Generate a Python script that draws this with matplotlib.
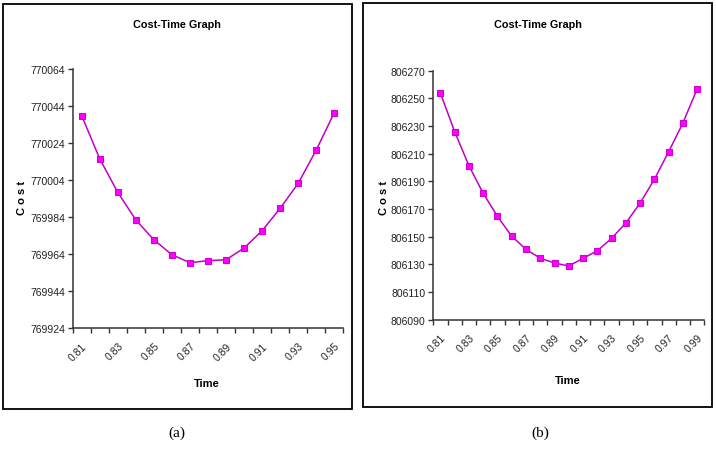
import matplotlib
matplotlib.use("Agg")
import matplotlib.pyplot as plt
from matplotlib.patches import Rectangle
from matplotlib.ticker import FixedLocator

plt.rcParams['font.family'] = ['Liberation Sans', 'DejaVu Sans']

# ---- data ----
time_a = ["0.81", "0.82", "0.83", "0.84", "0.85", "0.86", "0.87", "0.88",
          "0.89", "0.90", "0.91", "0.92", "0.93", "0.94", "0.95"]
cost_a = [770038.8, 770015.4, 769997.3, 769982.4, 769971.7, 769963.6, 769959.3,
          769960.4, 769960.9, 769967.2, 769976.6, 769988.7, 770002.2, 770020.2,
          770040.4]
yticks_a = [769924, 769944, 769964, 769984, 770004, 770024, 770044, 770064]

time_b = ["0.81", "0.82", "0.83", "0.84", "0.85", "0.86", "0.87", "0.88",
          "0.89", "0.90", "0.91", "0.92", "0.93", "0.94", "0.95", "0.96",
          "0.97", "0.98", "0.99"]
cost_b = [806253.7, 806225.9, 806201.3, 806181.3, 806164.7, 806150.3, 806140.9,
          806134.4, 806131.0, 806128.8, 806134.4, 806139.8, 806148.8, 806159.9,
          806174.3, 806191.5, 806211.4, 806232.2, 806256.8]
yticks_b = [806090, 806110, 806130, 806150, 806170, 806190, 806210, 806230,
            806250, 806270]

title = "Cost-Time Graph"
xlabel = "Time"
ylabel = "C o s t"
panel_labels = ["(a)", "(b)"]

W, H = 716, 456
fig = plt.figure(figsize=(W / 100, H / 100), dpi=100)

line_color = "#C000C8"
marker_face = "#FF00FF"
marker_edge = "#D000D0"
axis_color = "#333333"
tick_fs = 7.5


def fx(px):
    return px / W


def fy(py):
    return 1 - py / H


def make_panel(rect_px, box_px, cats, vals, yticks, title_xy, ylab_xy, xlab_xy, plab_xy, plab):
    x0, y0, x1, y1 = rect_px
    ax = fig.add_axes([fx(x0), fy(y1), fx(x1 - x0), (y1 - y0) / H])
    n = len(cats)
    xs = list(range(n))
    ax.plot(xs, vals, color=line_color, lw=1.1, marker='s', ms=5.0,
            mfc=marker_face, mec=marker_edge, mew=0.8, zorder=3)
    ax.set_xlim(-0.5, n - 0.5)
    ax.set_ylim(yticks[0], yticks[-1])
    ax.set_yticks(yticks)
    ax.set_yticklabels([str(t) for t in yticks], fontsize=tick_fs, color="#222222")
    ax.set_xticks(xs[::2])
    ax.set_xticklabels(cats[::2], rotation=45, ha='right', va='top',
                       rotation_mode='anchor', fontsize=tick_fs, color="#222222")
    ax.xaxis.set_minor_locator(FixedLocator([i - 0.5 for i in range(n + 1)]))
    ax.tick_params(axis='x', which='major', length=0, pad=9)
    ax.tick_params(axis='x', which='minor', length=3.5, width=1, color=axis_color,
                   direction='out')
    ax.tick_params(axis='y', which='major', length=3.5, width=1, color=axis_color,
                   direction='out', pad=2)
    for s in ['top', 'right']:
        ax.spines[s].set_visible(False)
    for s in ['left', 'bottom']:
        ax.spines[s].set_color(axis_color)
        ax.spines[s].set_linewidth(1.1)
    ax.patch.set_alpha(0)
    fig.text(fx(title_xy[0]), fy(title_xy[1]), title, ha='center', va='center',
             fontsize=7.8, fontweight='bold')
    fig.text(fx(ylab_xy[0]), fy(ylab_xy[1]), ylabel, ha='center', va='center',
             rotation=90, fontsize=8, fontweight='bold')
    fig.text(fx(xlab_xy[0]), fy(xlab_xy[1]), xlabel, ha='center', va='center',
             fontsize=8, fontweight='bold')
    fig.text(fx(plab_xy[0]), fy(plab_xy[1]), plab, ha='center', va='center',
             fontsize=11, family=['Liberation Serif', 'DejaVu Serif'])
    bx0, by0, bx1, by1 = box_px
    fig.patches.append(Rectangle((fx(bx0), fy(by1)), fx(bx1 - bx0), (by1 - by0) / H,
                                 transform=fig.transFigure, fill=False,
                                 edgecolor='black', lw=1.3))
    return ax


make_panel((72.7, 70, 343.3, 329), (2.5, 5, 351.5, 410), time_a, cost_a, yticks_a,
           (177, 25), (22, 198), (207, 384), (177, 433), panel_labels[0])
make_panel((433.3, 71.7, 704.3, 320.7), (363.5, 4, 712, 408), time_b, cost_b, yticks_b,
           (538, 25), (384, 198), (568, 381), (540, 433), panel_labels[1])

fig.savefig("out.png", dpi=100)
